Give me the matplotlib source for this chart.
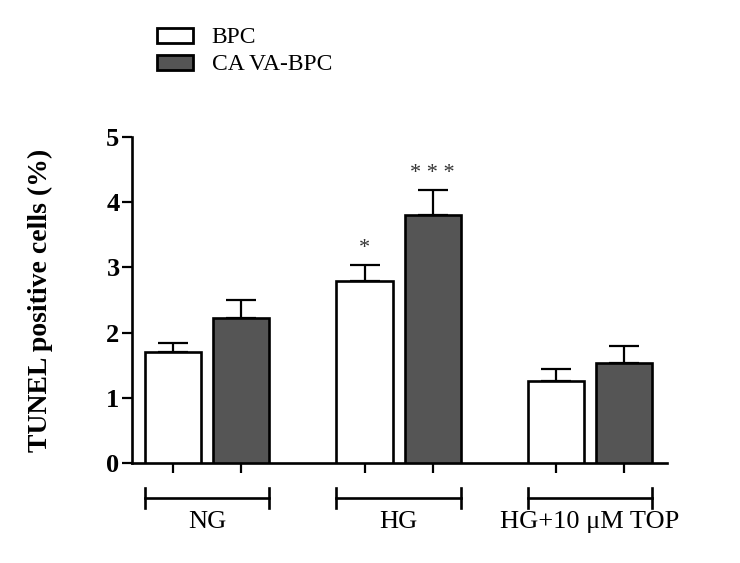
import matplotlib
matplotlib.use("Agg")
import matplotlib.pyplot as plt
from matplotlib.patches import Patch
import numpy as np

plt.rcParams['font.family'] = ['Liberation Serif', 'DejaVu Serif']

groups = ["NG", "HG", "HG+10 μM TOP"]
series = ["BPC", "CA VA-BPC"]
bpc_mean = [1.70, 2.79, 1.26]
bpc_err = [0.14, 0.24, 0.19]
ca_mean = [2.22, 3.80, 1.53]
ca_err = [0.28, 0.38, 0.27]
bpc_stars = ["", "*", ""]
ca_stars = ["", "* * *", ""]

fill = ["white", "#555555"]
off = 0.178
w = 0.293
lw = 1.9

fig = plt.figure(figsize=(7.4, 5.63), dpi=100)
ax = fig.add_axes([0.1784, 0.177, 0.723, 0.580])

x = np.arange(len(groups))
for i, (m, e, st) in enumerate([(bpc_mean, bpc_err, bpc_stars), (ca_mean, ca_err, ca_stars)]):
    pos = x - off if i == 0 else x + off
    ax.bar(pos, m, width=w, color=fill[i], edgecolor="black", linewidth=lw, zorder=3)
    ax.errorbar(pos, m, yerr=[np.zeros(len(m)), e], fmt="none", ecolor="black",
                elinewidth=1.6, capsize=11, capthick=1.6, zorder=2)
    for p, v, ee, s in zip(pos, m, e, st):
        if s:
            ax.text(p, v + ee + 0.12, s, ha="center", va="bottom", fontsize=16, color="#333333")

ax.set_xlim(-0.393, 2.403)
ax.set_ylim(0, 5)
ax.set_yticks([0, 1, 2, 3, 4, 5])
ax.set_xticks(np.concatenate([x - off, x + off]))
ax.set_xticklabels([])
for s in ["top", "right"]:
    ax.spines[s].set_visible(False)
for s in ["left", "bottom"]:
    ax.spines[s].set_linewidth(1.9)
ax.tick_params(axis="both", direction="out", length=7, width=1.6)
ax.tick_params(axis="y", pad=2)
for lab in ax.get_yticklabels():
    lab.set_fontsize(19)
    lab.set_fontweight("bold")

# group brackets under the axis
tr = ax.get_xaxis_transform()
for g, name in zip(x, groups):
    x0, x1 = g - off - w / 2, g + off + w / 2
    ax.plot([x0, x1], [-0.106, -0.106], color="black", lw=1.9, transform=tr, clip_on=False)
    for xe in (x0, x1):
        ax.plot([xe, xe], [-0.076, -0.136], color="black", lw=1.9, transform=tr, clip_on=False)
    ax.text(g, -0.145, name, ha="center", va="top", fontsize=19, transform=tr)

fig.text(40 / 740, 0.467, "TUNEL positive cells (%)", rotation=90, ha="center", va="center",
         fontsize=20, fontweight="bold")

handles = [Patch(facecolor=fill[0], edgecolor="black", linewidth=2),
           Patch(facecolor=fill[1], edgecolor="black", linewidth=2)]
fig.legend(handles, series, loc="upper left", bbox_to_anchor=(148 / 740, 1 - 18 / 563),
           frameon=False, fontsize=17, handlelength=1.5, handleheight=0.6,
           handletextpad=0.8, labelspacing=0.25, borderaxespad=0)

fig.savefig("out.png", dpi=100)
